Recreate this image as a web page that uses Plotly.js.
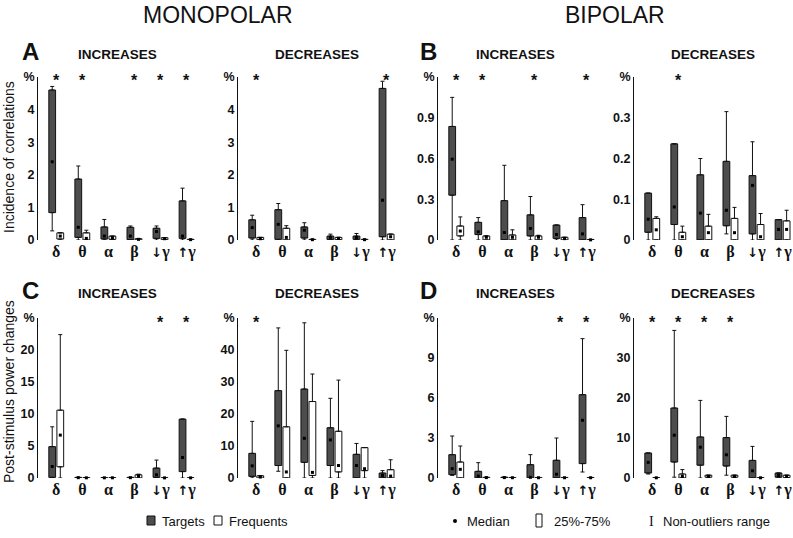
<!DOCTYPE html>
<html><head><meta charset="utf-8">
<script src="https://cdn.plot.ly/plotly-3.0.1.min.js"></script>
<style>html,body{margin:0;padding:0;background:#fff}#chart{width:793px;height:538px}</style>
</head><body><div id="chart"></div>
<script>
// Frequency bands (x categories)
const bands = ['δ','θ','α','β','↓γ','↑γ'];
const bandLabels = ['δ','θ','α','β',
  '<span style="font-family:DejaVu Sans;font-weight:bold;font-size:13px">\u2193</span>γ',
  '<span style="font-family:DejaVu Sans;font-weight:bold;font-size:13px">\u2191</span>γ'];

// Each row: [lower whisker, 25%, median, 75%, upper whisker] for bands δ..↑γ
// A – Monopolar, incidence of correlations, INCREASES
const monoIncTargets   = [[0.28,0.84,2.4,4.6,4.71],[0,0.08,0.39,1.87,2.27],[0,0.03,0.12,0.40,0.63],[0,0.01,0.12,0.39,0.43],[0,0.05,0.26,0.36,0.43],[0,0.05,0.12,1.2,1.59]];
const monoIncFrequents = [[0,0.03,0.12,0.22,0.22],[0,0,0.05,0.22,0.30],[0,0.02,0.07,0.12,0.12],[0,0,0.02,0.04,0.04],[0,0.01,0.04,0.07,0.07],[0,0,0.01,0.02,0.02]];
// A – Monopolar, DECREASES
const monoDecTargets   = [[0,0.06,0.38,0.62,0.76],[0,0.02,0.48,0.93,1.12],[0,0.06,0.30,0.40,0.53],[0,0.01,0.08,0.12,0.18],[0,0.02,0.08,0.12,0.20],[0,0.10,1.22,4.65,4.87]];
const monoDecFrequents = [[0,0.01,0.04,0.08,0.08],[0,0,0.08,0.36,0.44],[0,0,0.01,0.02,0.02],[0,0.01,0.05,0.08,0.08],[0,0,0.01,0.02,0.02],[0,0,0.10,0.18,0.18]];
// B – Bipolar, incidence, INCREASES
const biIncTargets     = [[0,0.33,0.595,0.836,1.05],[0,0.04,0.06,0.13,0.165],[0,0,0.055,0.29,0.55],[0,0.03,0.085,0.185,0.32],[0,0.012,0.04,0.11,0.11],[0,0,0.045,0.165,0.26]];
const biIncFrequents   = [[0,0.03,0.066,0.103,0.17],[0,0,0.02,0.03,0.03],[0,0,0.02,0.037,0.075],[0,0,0.02,0.03,0.035],[0,0,0.01,0.02,0.02],[0,0,0.001,0.004,0.004]];
// B – Bipolar, DECREASES
const biDecTargets     = [[0,0.019,0.051,0.115,0.115],[0,0.038,0.081,0.236,0.236],[0,0,0.066,0.16,0.20],[0.015,0.035,0.073,0.193,0.315],[0,0.015,0.134,0.158,0.241],[0,0,0.026,0.05,0.05]];
const biDecFrequents   = [[0,0,0.025,0.053,0.057],[0,0,0.008,0.019,0.034],[0,0,0.018,0.034,0.063],[0,0,0.018,0.053,0.08],[0,0,0.008,0.038,0.065],[0,0,0.026,0.047,0.073]];
// C – Monopolar, post-stimulus power changes, INCREASES
const monoIncPowTargets   = [[0,0.1,1.8,4.9,8.0],[0,0,0.05,0.1,0.1],[0,0,0.03,0.06,0.06],[0,0,0.05,0.1,0.1],[0,0.1,0.5,1.55,2.8],[0,1.0,3.2,9.2,9.2]];
const monoIncPowFrequents = [[0,1.75,6.7,10.6,22.4],[0,0,0.03,0.06,0.06],[0,0,0.03,0.06,0.06],[0,0,0.3,0.5,0.6],[0,0,0.02,0.04,0.04],[0,0,0.02,0.04,0.04]];
// C – Monopolar, DECREASES
const monoDecPowTargets   = [[0,0.5,3.8,7.7,17.7],[2.1,3.9,16.3,27.3,46.9],[0,4.9,12.4,27.8,48.5],[0,3.9,11.9,15.7,24.9],[0,0,3.9,7.4,10.8],[0,0,0.8,1.55,2.3]];
const monoDecPowFrequents = [[0,0,0.3,0.7,0.7],[0,0,1.9,16.0,39.9],[0,0.8,1.75,23.9,32.5],[0,1.9,3.9,14.6,30.6],[0,2.3,2.9,9.5,9.5],[0,0,0.6,2.6,5.7]];
// D – Bipolar, power changes, INCREASES
const biIncPowTargets   = [[0.2,0.25,0.7,1.75,3.15],[0,0,0.15,0.5,1.15],[0,0,0.03,0.06,0.06],[0,0,0.05,1.0,1.75],[0,0,0.28,1.33,3.0],[0.45,1.08,4.33,6.25,10.45]];
const biIncPowFrequents = [[0,0,0.65,1.2,2.4],[0,0,0.03,0.05,0.05],[0,0,0.02,0.04,0.04],[0,0,0.02,0.04,0.04],[0,0,0.02,0.04,0.04],[0,0,0.02,0.04,0.04]];
// D – Bipolar, DECREASES
const biDecPowTargets   = [[1.0,1.25,3.9,6.25,6.25],[0.2,4.0,10.7,17.5,36.9],[0,3.2,7.7,10.25,19.4],[0.7,3.0,5.8,10.1,15.4],[0,0,1.8,4.4,7.9],[0.2,0.2,0.65,1.25,1.25]];
const biDecPowFrequents = [[0,0,0.05,0.1,0.1],[0,0,0.4,1.0,2.1],[0,0.2,0.4,0.7,0.7],[0,0.2,0.4,0.7,0.7],[0,0,0.05,0.1,0.1],[0,0.1,0.4,0.7,0.7]];

// Significance stars (bands marked *)
const monoIncStars = ['δ','θ','β','↓γ','↑γ'];
const monoDecStars = ['δ','↑γ'];
const biIncStars   = ['δ','θ','β','↑γ'];
const biDecStars   = ['θ'];
const monoIncPowStars = ['↓γ','↑γ'];
const monoDecPowStars = ['δ'];
const biIncPowStars   = ['↓γ','↑γ'];
const biDecPowStars   = ['δ','θ','α','β'];

// Y tick values (top of each axis is labelled "%")
const monoIncTicks = [0,1,2,3,4,5];
const monoDecTicks = [0,1,2,3,4,5];
const biIncTicks   = [0,0.3,0.6,0.9,1.2];
const biDecTicks   = [0,0.1,0.2,0.3,0.4];
const monoIncPowTicks = [0,5,10,15,20,25];
const monoDecPowTicks = [0,10,20,30,40,50];
const biIncPowTicks   = [0,3,6,9,12];
const biDecPowTicks   = [0,10,20,30,40];

const panels = [
  {T:monoIncTargets, F:monoIncFrequents, stars:monoIncStars, ticks:monoIncTicks, col:0,row:0},
  {T:monoDecTargets, F:monoDecFrequents, stars:monoDecStars, ticks:monoDecTicks, col:1,row:0},
  {T:biIncTargets,   F:biIncFrequents,   stars:biIncStars,   ticks:biIncTicks,   col:2,row:0},
  {T:biDecTargets,   F:biDecFrequents,   stars:biDecStars,   ticks:biDecTicks,   col:3,row:0},
  {T:monoIncPowTargets, F:monoIncPowFrequents, stars:monoIncPowStars, ticks:monoIncPowTicks, col:0,row:1},
  {T:monoDecPowTargets, F:monoDecPowFrequents, stars:monoDecPowStars, ticks:monoDecPowTicks, col:1,row:1},
  {T:biIncPowTargets,   F:biIncPowFrequents,   stars:biIncPowStars,   ticks:biIncPowTicks,   col:2,row:1},
  {T:biDecPowTargets,   F:biDecPowFrequents,   stars:biDecPowStars,   ticks:biDecPowTicks,   col:3,row:1}
];

const W = 793, H = 538;
const colPx = [[38,197],[238,397],[438,597],[634,793]];
const rowPx = [[77,240],[318,478]];
const px = v => v / W;
const py = v => 1 - v / H;
const INK = '#111111';
const DARK = '#4d4d4d';
const SANS = 'Liberation Sans, Arial, sans-serif';
const SERIF = 'Liberation Serif, DejaVu Serif, serif';

const traces = [];
const layout = {
  width: W, height: H,
  margin: {l:0, r:0, t:0, b:0},
  paper_bgcolor: '#fff', plot_bgcolor: 'rgba(0,0,0,0)',
  barmode: 'overlay',
  showlegend: false,
  annotations: [], shapes: []
};

function addSeries(stats, offset, fill, xa, ya) {
  const xs = stats.map((s, i) => i + offset);
  const common = {xaxis: xa, yaxis: ya, hoverinfo: 'skip', showlegend: false};
  traces.push(Object.assign({
    type: 'bar', x: xs, base: stats.map(s => s[1]), y: stats.map(s => s[3] - s[1]),
    width: 0.26, marker: {color: fill, line: {color: INK, width: 1}}, cliponaxis: false
  }, common));
  traces.push(Object.assign({
    type: 'scatter', mode: 'markers', x: xs, y: stats.map(s => s[3]),
    marker: {color: 'rgba(0,0,0,0)', size: 1}, cliponaxis: false,
    error_y: {type: 'data', symmetric: false, array: stats.map(s => s[4] - s[3]),
              arrayminus: stats.map(() => 0), width: 2, thickness: 1, color: INK}
  }, common));
  traces.push(Object.assign({
    type: 'scatter', mode: 'markers', x: xs, y: stats.map(s => s[1]),
    marker: {color: 'rgba(0,0,0,0)', size: 1}, cliponaxis: false,
    error_y: {type: 'data', symmetric: false, array: stats.map(() => 0),
              arrayminus: stats.map(s => s[1] - s[0]), width: 2, thickness: 1, color: INK}
  }, common));
  traces.push(Object.assign({
    type: 'scatter', mode: 'markers', x: xs, y: stats.map(s => s[2]),
    marker: {color: '#000', size: 3, symbol: 'square'}, cliponaxis: false
  }, common));
}

panels.forEach((p, k) => {
  const n = k + 1;
  const xa = 'x' + (n === 1 ? '' : n), ya = 'y' + (n === 1 ? '' : n);
  const xName = 'xaxis' + (n === 1 ? '' : n), yName = 'yaxis' + (n === 1 ? '' : n);
  const c = colPx[p.col], r = rowPx[p.row];
  const top = p.ticks[p.ticks.length - 1];
  layout[xName] = {
    domain: [px(c[0]), px(c[1])], range: [-0.7, 5.4], anchor: ya,
    tickvals: bands.map((b, i) => i), ticktext: bandLabels,
    tickfont: {family: SERIF, size: 16, color: INK, weight: 'bold'},
    showgrid: false, zeroline: false, showline: false, ticks: '', fixedrange: true
  };
  layout[yName] = {
    domain: [py(r[1]), py(r[0])], range: [0, top], anchor: xa,
    tickvals: p.ticks, ticktext: p.ticks.map((v, i) => i === p.ticks.length - 1 ? '%' : String(v)),
    tickfont: {family: SANS, size: 12.5, color: INK, weight: 'bold'},
    showgrid: false, zeroline: false, showline: true, linecolor: INK, linewidth: 1,
    ticks: '', fixedrange: true
  };
  addSeries(p.T, -0.155, DARK, xa, ya);
  addSeries(p.F, 0.155, '#ffffff', xa, ya);
  p.stars.forEach(b => {
    layout.annotations.push({
      x: bands.indexOf(b), y: top, xref: xa, yref: ya, text: '*', showarrow: false,
      font: {family: SANS, size: 16, color: INK, weight: 'bold'}, yshift: -4
    });
  });
});

function txt(x, y, text, size, opts) {
  layout.annotations.push(Object.assign({
    x: px(x), y: py(y), xref: 'paper', yref: 'paper', text: text, showarrow: false,
    xanchor: 'center', yanchor: 'middle',
    font: {family: SANS, size: size, color: INK}
  }, opts || {}));
}
// Section titles
txt(218, 15, 'MONOPOLAR', 23);
txt(615, 15, 'BIPOLAR', 23);
// Panel letters
const bold = (s) => ({font: {family: SANS, size: s, color: INK, weight: 'bold'}});
txt(30, 52, 'A', 24, bold(24));
txt(428, 51, 'B', 24, bold(24));
txt(30, 290, 'C', 24, bold(24));
txt(428, 290, 'D', 24, bold(24));
// Subtitles
[[117,55,'INCREASES'],[317,55,'DECREASES'],[515,55,'INCREASES'],[713,55,'DECREASES'],
 [117,293,'INCREASES'],[317,293,'DECREASES'],[515,293,'INCREASES'],[713,293,'DECREASES']]
 .forEach(s => txt(s[0], s[1], s[2], 13.5, bold(13.5)));
// Y titles
txt(9, 157, 'Incidence of correlations', 14, {textangle: -90});
txt(9, 392, 'Post-stimulus power changes', 14, {textangle: -90});

// Legend
const L = 521;
layout.shapes.push({type:'rect', xref:'paper', yref:'paper', x0:px(147), x1:px(155), y0:py(525), y1:py(516), fillcolor:DARK, line:{color:INK, width:1}});
txt(160, L, 'Targets', 13, {xanchor:'left'});
layout.shapes.push({type:'rect', xref:'paper', yref:'paper', x0:px(214), x1:px(222), y0:py(525), y1:py(516), fillcolor:'#fff', line:{color:INK, width:1}});
txt(227, L, 'Frequents', 13, {xanchor:'left'});
layout.shapes.push({type:'circle', xref:'paper', yref:'paper', x0:px(453), x1:px(457), y0:py(523), y1:py(519), fillcolor:'#000', line:{color:'#000', width:0}});
txt(465, L, 'Median', 13, {xanchor:'left'});
layout.shapes.push({type:'rect', xref:'paper', yref:'paper', x0:px(536), x1:px(542), y0:py(527), y1:py(514), fillcolor:'#fff', line:{color:INK, width:1}});
txt(552, L, '25%-75%', 13, {xanchor:'left'});
txt(651, L, 'I', 14, {font:{family: SERIF, size: 14, color: INK}});
txt(661, L, 'Non-outliers range', 13, {xanchor:'left'});

Plotly.newPlot('chart', traces, layout, {staticPlot: true, displayModeBar: false});
</script>
</body></html>
